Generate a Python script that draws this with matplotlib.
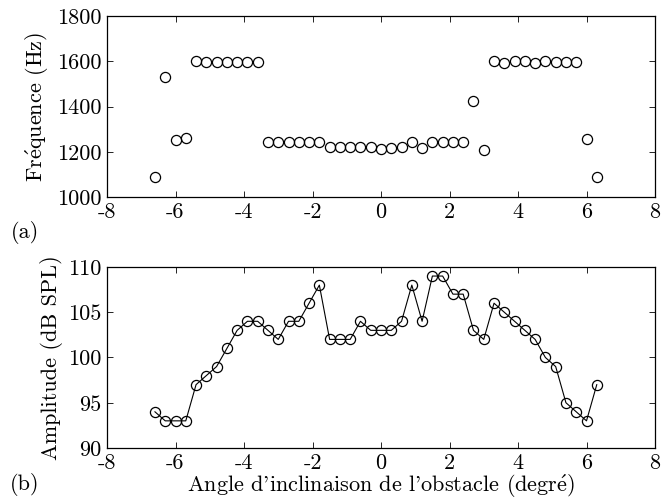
import matplotlib
matplotlib.use("Agg")
import matplotlib.pyplot as plt
import numpy as np

plt.rcParams['font.family'] = ['cmr10', 'DejaVu Serif']
plt.rcParams['axes.unicode_minus'] = False
plt.rcParams['mathtext.fontset'] = 'cm'

angles = [-6.6, -6.3, -6.0, -5.7, -5.4, -5.1, -4.8, -4.5, -4.2, -3.9, -3.6,
          -3.3, -3.0, -2.7, -2.4, -2.1, -1.8, -1.5, -1.2, -0.9, -0.6, -0.3,
          0.0, 0.3, 0.6, 0.9, 1.2, 1.5, 1.8, 2.1, 2.4, 2.7, 3.0, 3.3, 3.6,
          3.9, 4.2, 4.5, 4.8, 5.1, 5.4, 5.7, 6.0, 6.3]

frequence = [1088, 1530, 1251, 1260, 1603, 1597, 1597, 1597, 1597, 1597, 1597,
             1245, 1245, 1245, 1245, 1245, 1245, 1222, 1220, 1220, 1220, 1221,
             1213, 1215, 1220, 1243, 1218, 1243, 1243, 1243, 1243, 1426, 1209, 1603, 1594,
             1601, 1601, 1594, 1603, 1596, 1596, 1596, 1255, 1090]

amplitude = [94, 93, 93, 93, 97, 98, 99, 101, 103, 104, 104,
             103, 102, 104, 104, 106, 108, 102, 102, 102, 104, 103,
             103, 103, 104, 108, 104, 109, 109, 107, 107, 103, 102, 106, 105,
             104, 103, 102, 100, 99, 95, 94, 93, 97]

xticks = [-8, -6, -4, -2, 0, 2, 4, 6, 8]
yticks_f = [1000, 1200, 1400, 1600, 1800]
yticks_a = [90, 95, 100, 105, 110]

fs = 16
fig = plt.figure(figsize=(6.61, 5.01), dpi=100)
ax1 = fig.add_axes([107/661, 1-197/501, 548/661, 181/501])
ax2 = fig.add_axes([107/661, 1-448/501, 548/661, 181/501])

ax1.plot(angles, frequence, linestyle='none', marker='o', mfc='none', mec='black',
         ms=7.3, mew=0.9)
ax2.plot(angles, amplitude, linestyle='-', color='black', lw=0.8, marker='o',
         mfc='none', mec='black', ms=7.3, mew=0.9)

for ax, yt in ((ax1, yticks_f), (ax2, yticks_a)):
    ax.set_xlim(-8, 8)
    ax.set_ylim(yt[0], yt[-1])
    ax.set_xticks(xticks)
    ax.set_xticklabels([str(t) for t in xticks])
    ax.set_yticks(yt)
    ax.set_yticklabels([str(t) for t in yt])
    ax.tick_params(direction='in', top=True, right=True, length=4, width=0.6,
                   labelsize=fs)
    ax.tick_params(axis='x', pad=4)
    ax.tick_params(axis='y', pad=4)
    for s in ax.spines.values():
        s.set_linewidth(0.9)

e_acute = r'$\mathrm{\acute{e}}$'
ax1.set_ylabel('Fr' + e_acute + 'quence (Hz)', fontsize=fs, labelpad=4)
ax2.set_ylabel('Amplitude (dB SPL)', fontsize=fs, labelpad=4)
ax2.set_xlabel("Angle d'inclinaison de l'obstacle (degr" + e_acute + ")",
               fontsize=fs, labelpad=0)

fig.text(25/661, 1-232/501, '(a)', fontsize=fs, ha='center', va='center')
fig.text(25/661, 1-484/501, '(b)', fontsize=fs, ha='center', va='center')

fig.savefig('out.png', dpi=100)
